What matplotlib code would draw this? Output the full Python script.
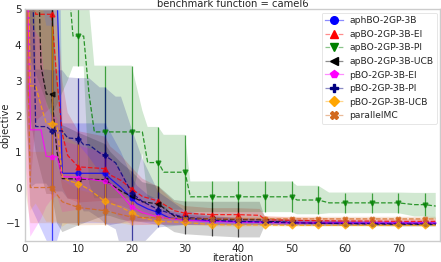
import matplotlib
matplotlib.use("Agg")
import matplotlib.pyplot as plt
import numpy as np
from matplotlib.lines import Line2D
from matplotlib.colors import to_rgba

# ---- data (iteration breakpoints, mean, std) ----
labels = ["aphBO-2GP-3B", "apBO-2GP-3B-EI", "apBO-2GP-3B-PI", "apBO-2GP-3B-UCB",
          "pBO-2GP-3B-EI", "pBO-2GP-3B-PI", "pBO-2GP-3B-UCB", "parallelMC"]

aph_it = [0, 1, 5, 6, 7, 10, 15, 16, 18, 20, 21, 23, 25, 27, 30, 35, 40, 45, 50, 55, 60, 65, 70, 75, 77]
aph_mean = [12, 9, 7.5, 5.5, 0.40, 0.40, 0.40, 0.25, 0.0, -0.30, -0.45, -0.60, -0.70, -0.85, -0.90,
            -0.94, -0.96, -0.97, -0.98, -0.99, -0.99, -1.0, -1.0, -1.0, -1.0]
aph_std = [9, 9.5, 9.3, 7, 1.4, 1.4, 1.4, 1.3, 1.0, 0.6, 0.5, 0.4, 0.35, 0.2, 0.15,
           0.12, 0.1, 0.09, 0.08, 0.08, 0.08, 0.07, 0.07, 0.07, 0.07]

ei_it = [0, 1, 2, 5, 6, 7, 8, 10, 15, 16, 18, 20, 22, 25, 28, 30, 35, 40, 44, 45, 50, 55, 60, 65, 70, 75, 77]
ei_mean = [12, 8, 4.86, 4.86, 3.0, 1.5, 0.9, 0.58, 0.53, 0.35, 0.2, -0.04, -0.25, -0.38, -0.65, -0.72,
           -0.76, -0.76, -0.78, -0.90, -0.92, -0.93, -0.94, -0.94, -0.95, -0.95, -0.95]
ei_std = [9, 8, 3.0, 2.6, 2.2, 1.5, 1.2, 1.0, 0.9, 0.8, 0.7, 0.6, 0.5, 0.4, 0.25, 0.2,
          0.18, 0.18, 0.18, 0.1, 0.08, 0.08, 0.07, 0.07, 0.07, 0.07, 0.07]

pi_it = [0, 5, 8, 9, 10, 11, 12, 13, 15, 20, 22, 23, 25, 26, 30, 31, 35, 40, 45, 50, 51, 55, 57,
         60, 65, 70, 73, 75, 77]
pi_mean = [14, 10, 6.0, 4.25, 4.25, 4.25, 2.63, 1.56, 1.56, 1.56, 1.56, 0.70, 0.70, 0.43, 0.43, -0.26,
           -0.26, -0.26, -0.26, -0.26, -0.35, -0.35, -0.43, -0.43, -0.43, -0.43, -0.48, -0.48, -0.52]
pi_std = [10, 8, 3.0, 0.85, 0.85, 0.85, 2.5, 1.86, 1.86, 1.86, 0.6, 1.0, 1.0, 1.05, 1.05, 0.43,
          0.43, 0.43, 0.43, 0.43, 0.40, 0.40, 0.29, 0.29, 0.29, 0.29, 0.33, 0.33, 0.37]

ucb_it = [0, 2, 3, 4, 5, 6, 7, 10, 15, 16, 18, 20, 22, 25, 28, 30, 35, 40, 44, 45, 50, 55, 60, 65, 70, 75, 77]
ucb_mean = [12, 9, 3.4, 2.62, 2.62, 1.0, 0.25, 0.24, 0.22, 0.1, -0.1, -0.25, -0.40, -0.46, -0.80, -0.85,
            -0.88, -0.90, -0.90, -0.95, -0.98, -1.0, -1.01, -1.02, -1.03, -1.03, -1.03]
ucb_std = [9, 8, 3.0, 2.8, 2.8, 2.0, 1.5, 1.3, 1.0, 0.9, 0.8, 0.7, 0.55, 0.5, 0.45, 0.46,
           0.48, 0.5, 0.5, 0.1, 0.08, 0.07, 0.07, 0.06, 0.06, 0.06, 0.06]

pei_it = [0, 1, 3, 4, 5, 6, 7, 10, 15, 16, 18, 20, 22, 25, 30, 35, 40, 45, 50, 55, 60, 65, 70, 75, 77]
pei_mean = [10, 1.62, 1.62, 0.87, 0.87, 0.87, 0.31, 0.28, 0.17, 0.1, -0.2, -0.54, -0.70, -0.83, -0.92,
            -0.95, -0.97, -0.98, -0.99, -0.99, -1.0, -1.0, -1.0, -1.0, -1.0]
pei_std = [9, 3.0, 2.5, 1.4, 1.2, 1.1, 1.0, 0.9, 0.8, 0.75, 0.65, 0.5, 0.35, 0.2, 0.12,
           0.1, 0.08, 0.07, 0.06, 0.06, 0.06, 0.06, 0.06, 0.06, 0.06]

ppi_it = [0, 1, 2, 4, 5, 7, 8, 10, 11, 12, 14, 15, 17, 18, 20, 22, 25, 30, 35, 40, 45, 50, 55, 60,
          65, 70, 75, 77]
ppi_mean = [12, 9, 1.71, 1.71, 1.59, 1.59, 1.39, 1.37, 1.2, 1.2, 0.97, 0.90, 0.69, 0.41, -0.15, -0.39,
            -0.62, -0.85, -0.92, -0.95, -0.97, -0.99, -1.0, -1.01, -1.01, -1.02, -1.02, -1.02]
ppi_std = [9, 9, 1.6, 1.6, 1.7, 1.7, 1.7, 1.7, 1.87, 1.87, 1.84, 1.91, 1.86, 2.14, 1.8, 1.2,
           0.5, 0.2, 0.12, 0.1, 0.08, 0.07, 0.07, 0.06, 0.06, 0.06, 0.06, 0.06]

pucb_it = [0, 1, 2, 3, 4, 5, 6, 7, 8, 10, 12, 15, 18, 20, 22, 25, 30, 35, 40, 45, 50, 55, 60, 65,
           70, 75, 77]
pucb_mean = [12, 2.85, 2.85, 2.3, 1.79, 1.79, 1.79, 0.3, 0.2, 0.11, -0.05, -0.39, -0.55, -0.71, -0.85,
             -0.95, -0.98, -1.04, -1.05, -1.05, -1.06, -1.06, -1.06, -1.06, -1.06, -1.06, -1.06]
pucb_std = [9, 3.5, 3.3, 3.0, 2.75, 2.75, 2.75, 1.4, 1.2, 1.1, 0.9, 0.6, 0.45, 0.35, 0.2,
            0.1, 0.07, 0.05, 0.05, 0.04, 0.04, 0.04, 0.04, 0.04, 0.04, 0.04, 0.04]

mc_it = [0, 1, 5, 7, 10, 15, 20, 25, 30, 35, 40, 45, 50, 55, 60, 65, 70, 75, 77]
mc_mean = [8, 0.0, 0.0, -0.4, -0.56, -0.65, -0.83, -0.85, -0.88, -0.88, -0.88, -0.88, -0.88, -0.88,
           -0.88, -0.88, -0.88, -0.88, -0.88]
mc_std = [8, 1.0, 1.0, 0.6, 0.5, 0.4, 0.15, 0.1, 0.06, 0.06, 0.06, 0.06, 0.06, 0.06,
          0.06, 0.06, 0.06, 0.06, 0.06]

series = [(aph_it, aph_mean, aph_std), (ei_it, ei_mean, ei_std), (pi_it, pi_mean, pi_std),
          (ucb_it, ucb_mean, ucb_std), (pei_it, pei_mean, pei_std), (ppi_it, ppi_mean, ppi_std),
          (pucb_it, pucb_mean, pucb_std), (mc_it, mc_mean, mc_std)]

colors = ["blue", "red", "green", "black", "magenta", "navy", "orange", "chocolate"]
markers = ["o", "^", "v", "<", "p", "P", "D", "X"]
styles = ["-", "--", "--", "--", "-", "--", "--", "--"]

plt.rcParams["font.family"] = "DejaVu Sans"
plt.rcParams["font.size"] = 7
plt.rcParams["text.color"] = "#262626"
plt.rcParams["axes.labelcolor"] = "#262626"
plt.rcParams["xtick.color"] = "#262626"
plt.rcParams["ytick.color"] = "#262626"

fig = plt.figure(figsize=(4.41, 2.62), dpi=100)
ax = fig.add_axes([25 / 441, 21 / 262, 415 / 441, 231.7 / 262])

handles = []
for (it, mean, std), c, m, ls, lab in zip(series, colors, markers, styles, labels):
    it = np.array(it)
    mean = np.array(mean, dtype=float)
    std = np.array(std, dtype=float)
    ax.fill_between(it, mean - std, mean + std, color=c, alpha=0.18, lw=0)
    ax.plot(it, mean, ls=ls, color=c, lw=0.9, alpha=0.8)
    sel = (it % 5 == 0) & (it > 0)
    ax.errorbar(it[sel], mean[sel], yerr=std[sel], fmt=m, color=c, ms=3.5,
                elinewidth=0.9, ecolor=c, capsize=0, alpha=0.7)
    handles.append(Line2D([], [], color=to_rgba(c, 0.45), ls=ls, lw=0.9, marker=m, ms=5.5,
                          markerfacecolor=c, markeredgecolor=c, label=lab))

ax.set_xlim(0, 77.8)
ax.set_ylim(-1.5, 5)
ax.set_xticks([0, 10, 20, 30, 40, 50, 60, 70])
ax.set_yticks([-1, 0, 1, 2, 3, 4, 5])
ax.tick_params(length=0, labelsize=7.5)
ax.tick_params(axis="x", pad=1.8)
ax.tick_params(axis="y", pad=2.5)
for s in ax.spines.values():
    s.set_color("#cccccc")
    s.set_linewidth(1.0)

ax.set_xlabel("iteration", fontsize=7)
ax.xaxis.set_label_coords(0.5, -0.050)
ax.set_ylabel("objective", fontsize=7.2)
ax.yaxis.set_label_coords(-0.034, 0.5)
ax.set_title("benchmark function = camel6", fontsize=7.2, pad=1.5)

leg = ax.legend(handles=handles, loc="upper right", fontsize=6.6, labelspacing=0.5,
                handlelength=1.9, handletextpad=0.7, borderaxespad=0.35, framealpha=0.85)
leg.get_frame().set_edgecolor("#dddddd")
leg.get_frame().set_linewidth(0.6)

fig.savefig("out.png", dpi=100)
